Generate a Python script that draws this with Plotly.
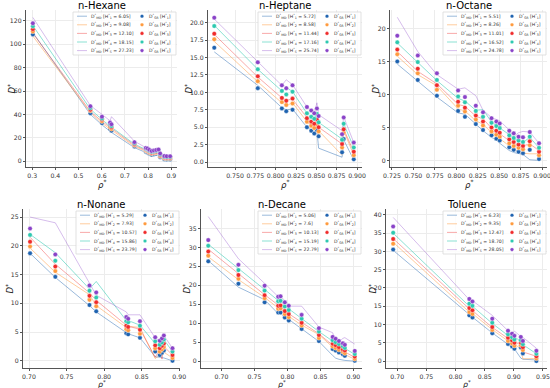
import plotly.graph_objects as go

# ---------------- data ----------------
NAMES = ["n-Hexane", "n-Heptane", "n-Octane", "n-Nonane", "n-Decane", "Toluene"]

H_HEXANE = ["6.05", "9.08", "12.10", "18.15", "27.23"]
H_HEPTANE = ["5.72", "8.58", "11.44", "17.16", "25.74"]
H_OCTANE = ["5.51", "8.26", "11.01", "16.52", "24.78"]
H_NONANE = ["5.29", "7.93", "10.57", "15.86", "23.79"]
H_DECANE = ["5.06", "7.6", "10.13", "15.19", "22.79"]
H_TOLUENE = ["6.23", "9.35", "12.47", "18.70", "28.05"]

# n-Hexane
HEX_RHO = [0.303, 0.551, 0.601, 0.636, 0.642, 0.741, 0.790, 0.797, 0.805, 0.815, 0.825, 0.835, 0.845, 0.852, 0.870, 0.880, 0.895]
HEX_SR = [
    [108.5, 41, 32.5, 27.5, 26, 12.5, 8.0, 7.4, 6.5, 5.5, 5.8, 6.2, 6.4, 3.2, 1.5, 1.3, 1.3],
    [111, 43, 34, 29, 27.5, 13.5, 9.0, 8.4, 7.4, 6.5, 6.8, 7.2, 7.4, 4.1, 2.3, 2.1, 2.1],
    [113, 44, 35.5, 30.5, 29, 14.3, 9.8, 9.2, 8.1, 7.2, 7.5, 7.9, 8.2, 4.8, 3.0, 2.8, 2.8],
    [115.5, 45.5, 36.5, 31.5, 30, 15.2, 10.5, 9.9, 8.8, 7.9, 8.2, 8.7, 9.0, 5.6, 3.6, 3.4, 3.4],
    [118, 47, 38, 33, 31.5, 16.2, 11.2, 10.7, 9.6, 8.6, 9.0, 9.5, 9.9, 6.5, 4.3, 4.1, 4.1],
]
HEX_MD = [
    [110, 40, 31, 26, 24.5, 11.5, 7.5, 7.0, 6.0, 5.2, 5.5, 5.8, 6.0, 2.5, 0.8, 0.6, 0.6],
    [107, 41.5, 32.5, 27.5, 26, 12.5, 8.5, 7.8, 6.8, 6.0, 6.3, 6.7, 7.0, 3.3, 1.5, 1.3, 1.3],
    [109.5, 42.5, 34, 29, 27.5, 13.5, 9.2, 8.6, 7.6, 6.7, 7.0, 7.4, 7.8, 4.0, 2.2, 2.0, 2.0],
    [116, 44.5, 35.5, 30.5, 29, 14.5, 10, 9.4, 8.4, 7.4, 7.8, 8.3, 8.7, 4.8, 2.9, 2.7, 2.7],
    [123, 47.5, 40, 34.5, 38, 17, 11.5, 11, 10, 9, 9.4, 9.9, 10.5, 6, 3.8, 3.6, 3.6],
]

# n-Heptane
HEP_RHO = [0.7245, 0.778, 0.8076, 0.813, 0.8207, 0.8384, 0.8437, 0.8474, 0.8507, 0.8528, 0.8816, 0.8836, 0.896]
HEP_SR = [
    [16.4, 10.6, 7.7, 7.3, 7.5, 5.0, 4.5, 4.1, 4.6, 3.7, 1.4, 3.3, 0.4],
    [17.6, 11.6, 8.6, 8.2, 8.4, 5.8, 5.2, 4.9, 5.4, 4.4, 2.1, 4.2, 1.0],
    [18.4, 12.3, 9.2, 8.8, 9.1, 6.3, 5.8, 5.5, 6.1, 5.0, 2.6, 4.7, 1.5],
    [19.5, 13.3, 10.2, 9.7, 10.1, 7.0, 6.5, 6.2, 6.9, 5.7, 3.2, 5.5, 2.1],
    [20.7, 14.3, 11.0, 10.6, 11.0, 7.9, 7.4, 7.0, 7.7, 6.6, 4.0, 6.4, 2.8],
]
HEP_MD = [
    [15.8, 11.0, 7.8, 7.5, 7.6, 5.0, 4.6, 4.2, 4.5, 2.0, 0.7, 3.2, 0.3],
    [17.3, 11.5, 8.5, 8.1, 8.5, 5.8, 5.2, 4.8, 5.2, 4.5, 1.0, 4.5, 1.0],
    [18.3, 12.2, 9.2, 8.9, 9.0, 6.4, 5.8, 5.5, 6.0, 5.0, 2.6, 4.7, 1.5],
    [19.6, 13.3, 10.2, 10.7, 10.1, 7.0, 6.5, 6.2, 6.9, 5.7, 3.3, 5.5, 2.1],
    [20.5, 14.3, 11.0, 11.8, 11.1, 7.9, 7.4, 7.0, 8.5, 6.8, 4.5, 6.5, 2.8],
]

# n-Octane
OCT_RHO = [0.7312, 0.7551, 0.7774, 0.8021, 0.8101, 0.8228, 0.8312, 0.8411, 0.8467, 0.8507, 0.8618, 0.8670, 0.8726, 0.8778, 0.8857, 0.8965]
OCT_SR = [
    [15.0, 12.2, 9.8, 7.5, 6.6, 5.5, 4.6, 3.8, 3.3, 3.0, 2.0, 1.6, 1.3, 1.1, 1.6, 0.2],
    [16.1, 13.2, 10.7, 8.3, 7.4, 6.2, 5.3, 4.4, 3.9, 3.6, 2.6, 2.2, 1.9, 1.7, 2.3, 0.8],
    [16.8, 13.9, 11.4, 8.9, 8.0, 6.8, 5.9, 5.0, 4.5, 4.2, 3.2, 2.8, 2.4, 2.2, 2.9, 1.3],
    [17.9, 14.9, 12.2, 9.7, 8.8, 7.5, 6.6, 5.7, 5.2, 4.9, 3.8, 3.4, 3.0, 2.8, 3.6, 1.9],
    [18.9, 15.9, 13.2, 10.6, 9.6, 8.3, 7.3, 6.4, 5.9, 5.6, 4.5, 4.1, 3.6, 3.5, 4.3, 2.6],
]
OCT_MD = [
    [14.6, 12.0, 9.6, 7.2, 7.0, 5.5, 4.5, 3.5, 3.1, 2.6, 1.5, 1.2, 1.0, 0.9, 0.1, 0.0],
    [15.8, 13.0, 11.3, 7.8, 7.5, 6.0, 5.5, 4.2, 3.8, 3.3, 2.2, 1.8, 1.3, 1.1, 1.0, 1.0],
    [16.5, 13.5, 11.6, 8.5, 8.2, 6.7, 6.3, 4.9, 4.4, 4.0, 3.0, 2.6, 2.0, 2.2, 2.5, 1.5],
    [17.8, 14.8, 12.1, 9.4, 9.0, 7.6, 7.7, 5.8, 5.3, 4.9, 3.9, 3.3, 3.0, 2.7, 3.5, 1.9],
    [21.7, 16.5, 13.0, 10.8, 11.0, 9.8, 7.6, 6.5, 6.2, 6.0, 4.6, 3.6, 4.2, 4.4, 4.3, 2.6],
]

# n-Nonane
NON_RHO = [0.7014, 0.735, 0.7805, 0.7895, 0.8295, 0.832, 0.8477, 0.868, 0.874, 0.877, 0.8795, 0.891]
NON_SR = [
    [18.7, 14.6, 9.7, 8.6, 4.8, 4.6, 4.0, 1.6, 1.0, 1.4, 1.8, 0.0],
    [19.9, 15.6, 10.6, 9.5, 5.5, 5.3, 4.7, 2.2, 1.6, 2.0, 2.4, 0.5],
    [20.7, 16.4, 11.3, 10.2, 6.1, 5.9, 5.4, 2.7, 2.2, 2.6, 3.0, 1.0],
    [21.9, 17.4, 12.2, 11.0, 6.9, 6.7, 6.1, 3.4, 2.8, 3.2, 3.7, 1.6],
    [23.0, 18.5, 13.1, 11.9, 7.6, 7.3, 6.9, 4.1, 3.5, 3.9, 4.4, 2.2],
]
NON_MD = [
    [18.7, 14.5, 9.6, 8.5, 4.9, 4.7, 4.0, 0.7, 0.6, 0.6, 0.5, 0.0],
    [19.6, 15.4, 11.5, 9.6, 5.8, 6.0, 5.8, 0.4, 1.0, 0.8, 1.5, 0.5],
    [21.5, 16.8, 11.8, 10.5, 6.2, 6.0, 5.5, 0.6, 2.0, 0.3, 2.5, 1.0],
    [22.0, 18.8, 12.5, 13.8, 7.0, 7.0, 6.2, 3.0, 2.5, 3.5, 3.7, 1.6],
    [25.0, 24.0, 13.5, 11.4, 8.5, 8.0, 8.0, 4.0, 3.5, 3.9, 4.4, 2.2],
]

# n-Decane
DEC_RHO = [0.680, 0.7257, 0.7654, 0.786, 0.7896, 0.796, 0.802, 0.8215, 0.8477, 0.8685, 0.873, 0.878, 0.884, 0.887, 0.902]
DEC_SR = [
    [26.3, 20.4, 15.5, 12.8, 12.8, 11.5, 10.7, 8.5, 5.3, 3.2, 2.8, 2.3, 1.8, 1.4, 0.1],
    [27.8, 21.7, 16.6, 13.8, 13.9, 12.4, 11.6, 9.4, 6.1, 3.9, 3.5, 3.0, 2.5, 2.1, 0.6],
    [28.9, 22.7, 17.4, 14.6, 14.7, 13.2, 12.4, 10.1, 6.9, 4.6, 4.2, 3.7, 3.1, 2.8, 1.2],
    [30.4, 24.0, 18.6, 15.8, 15.9, 14.4, 13.5, 11.2, 7.8, 5.5, 5.0, 4.5, 3.9, 3.5, 1.9],
    [31.9, 25.4, 19.9, 17.0, 17.1, 15.5, 14.6, 12.2, 8.7, 6.4, 5.9, 5.3, 4.7, 4.3, 2.7],
]
DEC_MD = [
    [26.5, 19.5, 16.2, 12.5, 12.6, 11.5, 11.0, 8.5, 5.2, 1.5, 0.8, 0.5, 0.3, 0.2, 0.0],
    [27.5, 21.5, 16.8, 14.0, 14.0, 12.5, 11.8, 9.5, 7.0, 3.5, 3.0, 2.5, 2.0, 1.8, 0.5],
    [29.5, 23.0, 17.5, 14.8, 14.8, 13.2, 12.5, 10.2, 7.2, 4.2, 3.8, 3.2, 2.6, 2.4, 1.0],
    [30.8, 24.5, 18.8, 16.0, 16.0, 14.6, 13.8, 11.2, 7.8, 5.3, 4.8, 4.3, 3.6, 3.3, 1.8],
    [38.1, 27.0, 20.5, 17.0, 17.0, 16.0, 14.5, 14.5, 9.0, 7.5, 5.5, 5.0, 6.0, 6.2, 4.5],
]

# Toluene
TOL_RHO = [0.693, 0.8236, 0.829, 0.863, 0.890, 0.897, 0.901, 0.912, 0.9155, 0.9387]
TOL_SR = [
    [30.5, 12.5, 11.9, 7.6, 4.7, 4.0, 3.4, 3.7, 2.1, 0.0],
    [32.1, 13.4, 12.9, 8.5, 5.5, 4.8, 4.2, 4.3, 3.0, 0.7],
    [33.4, 14.5, 13.9, 9.3, 6.4, 5.6, 5.0, 5.0, 3.8, 1.3],
    [35.1, 15.7, 15.1, 10.5, 7.3, 6.5, 5.9, 5.7, 4.6, 2.0],
    [36.8, 17.0, 16.3, 11.6, 8.3, 7.5, 6.9, 6.6, 5.5, 2.8],
]
TOL_MD = [
    [30.3, 12.5, 12.0, 7.7, 4.5, 3.9, 3.3, 0.8, 0.5, 0.3],
    [32.5, 13.4, 13.0, 8.6, 5.5, 4.8, 4.5, 3.5, 0.6, 0.7],
    [33.5, 14.3, 13.8, 9.2, 6.2, 5.5, 5.2, 4.5, 2.5, 1.3],
    [35.0, 15.0, 15.0, 10.3, 7.0, 6.4, 6.5, 5.5, 4.5, 2.0],
    [39.3, 16.8, 16.5, 12.5, 8.3, 7.5, 8.2, 6.7, 6.5, 3.5],
]

# tick values / labels
X_TICKS = [
    [0.3, 0.4, 0.5, 0.6, 0.7, 0.8, 0.9],
    [0.750, 0.775, 0.800, 0.825, 0.850, 0.875, 0.900],
    [0.725, 0.750, 0.775, 0.800, 0.825, 0.850, 0.875, 0.900],
    [0.70, 0.75, 0.80, 0.85, 0.90],
    [0.70, 0.75, 0.80, 0.85, 0.90],
    [0.70, 0.75, 0.80, 0.85, 0.90, 0.95],
]
X_LABELS = [
    ["0.3", "0.4", "0.5", "0.6", "0.7", "0.8", "0.9"],
    ["0.750", "0.775", "0.800", "0.825", "0.850", "0.875", "0.900"],
    ["0.725", "0.750", "0.775", "0.800", "0.825", "0.850", "0.875", "0.900"],
    ["0.70", "0.75", "0.80", "0.85", "0.90"],
    ["0.70", "0.75", "0.80", "0.85", "0.90"],
    ["0.70", "0.75", "0.80", "0.85", "0.90", "0.95"],
]
Y_TICKS = [
    [0, 20, 40, 60, 80, 100, 120],
    [0.0, 2.5, 5.0, 7.5, 10.0, 12.5, 15.0, 17.5, 20.0],
    [0, 5, 10, 15, 20],
    [0, 5, 10, 15, 20, 25],
    [0, 5, 10, 15, 20, 25, 30, 35],
    [0, 5, 10, 15, 20, 25, 30, 35, 40],
]
Y_LABELS = [
    ["0", "20", "40", "60", "80", "100", "120"],
    ["0.0", "2.5", "5.0", "7.5", "10.0", "12.5", "15.0", "17.5", "20.0"],
    ["0", "5", "10", "15", "20"],
    ["0", "5", "10", "15", "20", "25"],
    ["0", "5", "10", "15", "20", "25", "30", "35"],
    ["0", "5", "10", "15", "20", "25", "30", "35", "40"],
]

# ---------------- layout / style ----------------
W, H = 550, 388
COLORS = ["#1f63b0", "#ff9a3d", "#f02a2a", "#2ec9b0", "#8a43c8"]
LINE_COLORS = ["rgba(31,99,176,0.45)", "rgba(255,154,61,0.5)", "rgba(240,42,42,0.4)",
               "rgba(46,201,176,0.55)", "rgba(138,67,200,0.35)"]
FONT = "DejaVu Sans"

# pixel boxes: (left, right, top, bottom)
BOXES = [(26, 177, 10, 167), (208, 362, 10, 167), (390, 547, 10, 167),
         (23, 180, 209, 368), (201, 362, 209, 368), (386, 547, 209, 368)]
YTITLE_OFFSET = [14, 19, 14, 14, 15, 14]
XTITLE_OFFSET = [17, 17, 17, 15.5, 15.5, 15.5]
XTITLE_SIZE = [8.5, 8.5, 8.5, 7.8, 7.8, 7.8]
XR = [[0.2734, 0.9246], [0.7168, 0.9061], [0.7227, 0.9058],
      [0.692, 0.901], [0.669, 0.913], [0.6807, 0.9569]]
YR = [[-5.1, 129.4], [-0.7, 21.8], [-1.0, 22.8],
      [-1.25, 26.4], [-1.8, 40.1], [-1.9, 41.6]]

PANELS = [
    (HEX_RHO, HEX_MD, HEX_SR, H_HEXANE),
    (HEP_RHO, HEP_MD, HEP_SR, H_HEPTANE),
    (OCT_RHO, OCT_MD, OCT_SR, H_OCTANE),
    (NON_RHO, NON_MD, NON_SR, H_NONANE),
    (DEC_RHO, DEC_MD, DEC_SR, H_DECANE),
    (TOL_RHO, TOL_MD, TOL_SR, H_TOLUENE),
]


def px(x):
    return x / W


def py(y):
    return 1 - y / H


fig = go.Figure()
shapes = []
annotations = []

for i, (rho, md, sr, hv) in enumerate(PANELS):
    xa = "x" if i == 0 else f"x{i + 1}"
    ya = "y" if i == 0 else f"y{i + 1}"
    for k in range(5):
        fig.add_trace(go.Scatter(x=rho, y=md[k], mode="lines", xaxis=xa, yaxis=ya,
                                 line=dict(color=LINE_COLORS[k], width=1),
                                 showlegend=False, hoverinfo="skip"))
    for k in range(5):
        fig.add_trace(go.Scatter(x=rho, y=sr[k], mode="markers", xaxis=xa, yaxis=ya,
                                 marker=dict(color=COLORS[k], size=4.5,
                                             line=dict(color="white", width=0.4)),
                                 showlegend=False))
    L, R, T, B = BOXES[i]
    axis_common = dict(showline=True, linecolor="#555555", linewidth=1.2, mirror=False,
                       showgrid=True, gridcolor="#ececec", gridwidth=0.6, zeroline=False,
                       ticks="outside", ticklen=2, tickwidth=0.8, tickcolor="#555555",
                       automargin=False, tickangle=0, ticklabeloverflow="allow",
                       tickfont=dict(family=FONT, size=6.2, color="#333333"))
    fig.update_layout(**{
        ("xaxis" if i == 0 else f"xaxis{i + 1}"): dict(
            domain=[px(L), px(R)], range=XR[i], anchor=ya,
            tickmode="array", tickvals=X_TICKS[i], ticktext=X_LABELS[i], **axis_common),
        ("yaxis" if i == 0 else f"yaxis{i + 1}"): dict(
            domain=[py(B), py(T)], range=YR[i], anchor=xa,
            tickmode="array", tickvals=Y_TICKS[i], ticktext=Y_LABELS[i], **axis_common),
    })
    # titles
    annotations.append(dict(text=NAMES[i], x=px((L + R) / 2), y=py(T - 4.5), xref="paper", yref="paper",
                            showarrow=False, xanchor="center", yanchor="middle",
                            font=dict(family=FONT, size=10, color="black")))
    annotations.append(dict(text="<i>ρ</i><sup>*</sup>", x=px((L + R) / 2), y=py(B + XTITLE_OFFSET[i]),
                            xref="paper", yref="paper", showarrow=False,
                            xanchor="center", yanchor="middle",
                            font=dict(family=FONT, size=XTITLE_SIZE[i], color="#222222")))
    annotations.append(dict(text="<i>D</i><sup>*</sup>", x=px(L - YTITLE_OFFSET[i]), y=py((T + B) / 2),
                            xref="paper", yref="paper", showarrow=False, textangle=-90,
                            xanchor="center", yanchor="middle",
                            font=dict(family=FONT, size=8.5, color="#222222")))
    # legend box (drawn by hand to match compact size)
    bl, br, bt, bb = R - 104, R - 1, T + 2, T + 45
    shapes.append(dict(type="rect", xref="paper", yref="paper", layer="above",
                       x0=px(bl), x1=px(br), y0=py(bb), y1=py(bt),
                       line=dict(color="#d9d9d9", width=0.8), fillcolor="rgba(255,255,255,0.85)"))
    for k in range(5):
        cy = bt + 4.2 + k * 8.6
        shapes.append(dict(type="line", xref="paper", yref="paper", layer="above",
                           x0=px(bl + 4), x1=px(bl + 14), y0=py(cy), y1=py(cy),
                           line=dict(color=LINE_COLORS[k], width=1)))
        shapes.append(dict(type="circle", xref="paper", yref="paper", layer="above",
                           x0=px(bl + 67.2), x1=px(bl + 70.8), y0=py(cy + 1.8), y1=py(cy - 1.8),
                           line=dict(color="white", width=0.3), fillcolor=COLORS[k]))
        annotations.append(dict(
            text=f"D<sup>*</sup><sub>MD</sub> [H<sup>*</sup><sub>{k + 1}</sub> = {hv[k]}]",
            x=px(bl + 16), y=py(cy), xref="paper", yref="paper", showarrow=False,
            xanchor="left", yanchor="middle", font=dict(family=FONT, size=4.6, color="#333333")))
        annotations.append(dict(
            text=f"D<sup>*</sup><sub>SR</sub> [H<sup>*</sup><sub>{k + 1}</sub>]",
            x=px(bl + 74), y=py(cy), xref="paper", yref="paper", showarrow=False,
            xanchor="left", yanchor="middle", font=dict(family=FONT, size=4.6, color="#333333")))

fig.update_layout(width=W, height=H, autosize=False, margin=dict(l=0, r=0, t=0, b=0),
                  paper_bgcolor="white", plot_bgcolor="white", showlegend=False,
                  shapes=shapes, annotations=annotations, font=dict(family=FONT))

fig.write_html("out.html", config={"displayModeBar": False},
               post_script="document.body.style.margin='0px';")
